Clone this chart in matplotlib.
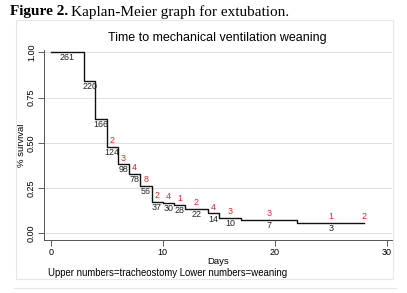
import matplotlib
matplotlib.use("Agg")
import matplotlib.pyplot as plt
from matplotlib.patches import Rectangle

# Kaplan-Meier step data
times = [0, 3, 4, 5, 6, 7, 8, 9, 10, 11, 12, 14, 15, 17, 22, 28]
surv = [1.0, 0.843, 0.632, 0.477, 0.381, 0.326, 0.261, 0.175, 0.167, 0.155, 0.136, 0.110, 0.087, 0.076, 0.057]
# lower numbers (weaning / at risk) and upper numbers (tracheostomy)
at_risk = [261, 220, 166, 124, 98, 78, 56, 37, 30, 28, 22, 14, 10, 7, 3]
lost = [0, 0, 0, 2, 3, 4, 8, 2, 4, 1, 2, 4, 3, 3, 1]
lost_end = 2

yticks = [0.0, 0.25, 0.50, 0.75, 1.00]
xticks = [0, 10, 20, 30]

plt.rcParams['font.family'] = ['Liberation Sans', 'DejaVu Sans']

fig = plt.figure(figsize=(4.07, 2.93), dpi=100)
W, H = 407, 293

# caja de la region del grafico (estilo Stata)
fig.patches.append(Rectangle((16 / W, 1 - 279 / H), 377 / W, 259 / H, transform=fig.transFigure,
                             fill=False, edgecolor='#e6e6e6', linewidth=0.8))
fig.add_artist(plt.Line2D([14 / W, 396 / W], [1 - 288 / H, 1 - 288 / H], transform=fig.transFigure,
                          color='#e6e6e6', linewidth=0.8))

ax = fig.add_axes([44.3 / W, 1 - 240 / H, (392 - 44.3) / W, 190 / H])

ax.step(times, surv + [surv[-1]], where='post', color='#111111', linewidth=1.0)

red = '#d42a2a'
for i in range(len(at_risk)):
    xm = (times[i] + times[i + 1]) / 2
    ax.text(xm, surv[i] - 0.031, str(at_risk[i]), ha='center', va='center', fontsize=6.4, color='#222222')
    if lost[i] > 0:
        ax.text(xm, surv[i] + 0.035, str(lost[i]), ha='center', va='center', fontsize=6.4, color=red)
ax.text(times[-1], surv[-1] + 0.035, str(lost_end), ha='center', va='center', fontsize=6.4, color=red)

ax.set_xlim(-0.57, 30.47)
ax.set_ylim(-0.037, 1.013)
ax.set_xticks(xticks)
ax.set_yticks(yticks)
ax.set_yticklabels(['0.00', '0.25', '0.50', '0.75', '1.00'], rotation=90, va='center')
ax.tick_params(axis='both', labelsize=6.5, length=4, width=0.6, color='#444444', pad=2)
ax.grid(axis='y', color='#e0e0e0', linewidth=0.7)
ax.set_axisbelow(True)
for s in ['top', 'right']:
    ax.spines[s].set_visible(False)
for s in ['left', 'bottom']:
    ax.spines[s].set_color('#555555')
    ax.spines[s].set_linewidth(0.7)

ax.set_xlabel('Days', fontsize=6.8, labelpad=0)
ax.set_ylabel('% survival', fontsize=6.8, labelpad=0.5)

fig.text(217.5 / W, 1 - 38 / H, 'Time to mechanical ventilation weaning', ha='center', va='center', fontsize=9.0)
fig.text(47.7 / W, 1 - 272.7 / H, 'Upper numbers=tracheostomy Lower numbers=weaning', ha='left', va='center', fontsize=6.95)

# titulo de la figura: parte en negrita y parte normal
t1 = fig.text(10 / W, 1 - 12 / H, 'Figure 2.', ha='left', va='center', fontsize=11,
              fontweight='bold', family='Liberation Serif')
fig.canvas.draw()
bb = t1.get_window_extent()
fig.text(bb.x1 / W + 3 / W, 1 - 12 / H, 'Kaplan-Meier graph for extubation.', ha='left', va='center',
         fontsize=11, family='Liberation Serif')

fig.savefig('out.png', dpi=100)
